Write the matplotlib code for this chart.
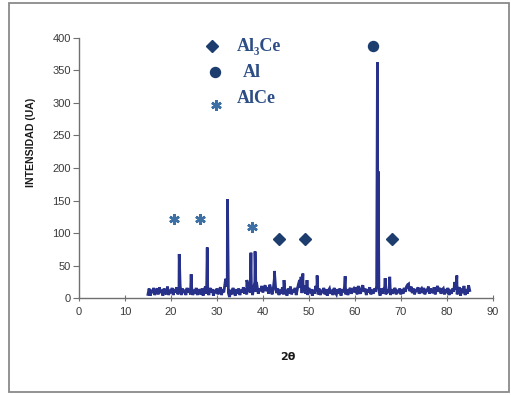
import numpy as np
import matplotlib
matplotlib.use("Agg")
import matplotlib.pyplot as plt
from matplotlib.patches import Rectangle

# ---- data ----
x_start, x_stop, x_step = 15.0, 85.0, 0.25
baseline = [
    6, 15, 4, 13, 8, 16, 5, 12, 15, 6, 17, 8, 13, 4, 15, 9, 6, 18, 5, 13,
    8, 16, 5, 14, 9, 17, 6, 12, 20, 5, 15, 8, 13, 5, 16, 9, 14, 6, 17, 5,
    13, 7, 16, 5, 14, 9, 6, 15, 4, 13, 18, 7, 12, 5, 16, 9, 14, 4, 13, 8,
    15, 6, 12, 17, 5, 14, 9, 22, 28, 18, 8, 2, 13, 6, 16, 9, 4, 14, 7, 15,
    5, 13, 9, 17, 7, 15, 6, 22, 12, 9, 18, 5, 16, 25, 10, 18, 7, 15, 11, 19,
    9, 16, 20, 11, 17, 7, 21, 14, 6, 14, 30, 18, 8, 15, 5, 13, 7, 17, 6, 14,
    10, 4, 15, 7, 18, 6, 13, 9, 16, 5, 14, 22, 28, 16, 8, 15, 20, 7, 13, 5,
    16, 8, 14, 4, 13, 7, 19, 10, 6, 15, 5, 13, 8, 16, 6, 14, 4, 12, 15, 7,
    13, 5, 16, 9, 6, 14, 7, 15, 4, 13, 9, 17, 6, 14, 5, 12, 16, 7, 13, 15,
    9, 17, 6, 19, 11, 7, 16, 20, 10, 15, 5, 14, 9, 17, 6, 13, 7, 15, 10, 19,
    40, 11, 4, 15, 7, 14, 17, 6, 13, 8, 19, 5, 14, 7, 12, 16, 6, 13, 8, 15,
    6, 14, 7, 16, 10, 18, 21, 16, 11, 18, 8, 15, 6, 14, 10, 17, 7, 13, 15, 8,
    16, 6, 14, 10, 18, 7, 15, 11, 8, 17, 6, 14, 19, 10, 16, 7, 13, 15, 6, 14,
    8, 16, 5, 13, 7, 15, 10, 25, 14, 6, 13, 17, 4, 15, 8, 19, 5, 14, 7, 20,
    12,
]
peak_pos = [21.8, 24.4, 27.9, 31.9, 32.3, 36.5, 37.4, 38.3, 38.6, 42.5, 44.6,
            48.3, 48.7, 49.6, 51.8, 57.9, 64.93, 65.08, 66.6, 67.6, 71.7, 82.2]
peak_int = [68, 37, 78, 30, 152, 28, 70, 72, 25, 42, 28,
            33, 38, 28, 35, 34, 362, 195, 31, 33, 22, 35]

# phase marker annotations
al3ce_x = [43.5, 49.2, 68.1]
al3ce_y = [91, 91, 91]
al_x = [64.0]
al_y = [387]
alce_x = [20.7, 26.3, 37.6]
alce_y = [122, 122, 109]

legend_labels = ["Al\u2083Ce", "Al", "AlCe"]

x_ticks = list(range(0, 91, 10))
y_ticks = list(range(0, 401, 50))

# ---- build series ----
x_base = np.arange(x_start, x_stop + x_step / 2, x_step)
xs = np.concatenate([x_base, peak_pos])
ys = np.concatenate([np.array(baseline, float), peak_int])
order = np.argsort(xs, kind="stable")
xs, ys = xs[order], ys[order]

fig = plt.figure(figsize=(5.11, 3.95), dpi=100)
ax = fig.add_axes([0.1546, 0.2448, 0.8096, 0.6598])

line_col = "#28318a"
dark = "#1c3d6e"
light = "#3f70a4"

ax.plot(xs, ys, color=line_col, lw=2.0, zorder=3, solid_joinstyle="miter")

d_ms, o_ms, a_ms = 6.3, 7.2, 7.5
ax.plot(al3ce_x, al3ce_y, ls="none", marker="D", ms=d_ms, color=dark, zorder=4)
ax.plot(al_x, al_y, ls="none", marker="o", ms=o_ms, color=dark, zorder=4)
ax.plot(alce_x, alce_y, ls="none", marker=(6, 2, 0), ms=a_ms, mew=1.8, color=light, zorder=4)

# legend-like key drawn in data space
ax.plot([28.9], [387], ls="none", marker="D", ms=d_ms, color=dark, clip_on=False)
ax.plot([29.6], [347], ls="none", marker="o", ms=o_ms, color=dark, clip_on=False)
ax.plot([29.8], [297], ls="none", marker=(6, 2, 0), ms=a_ms, mew=1.8, color=light, clip_on=False)
tfont = dict(family="Liberation Serif", fontweight="bold", fontsize=13, color="#2c4d85",
             va="center", ha="left")
ax.text(34.4, 387, legend_labels[0], **tfont)
ax.text(35.6, 347, legend_labels[1], **tfont)
ax.text(34.4, 307, legend_labels[2], **tfont)

ax.set_xlim(0, 90)
ax.set_ylim(0, 400)
ax.set_xticks(x_ticks)
ax.set_yticks(y_ticks)
for s in ["top", "right"]:
    ax.spines[s].set_visible(False)
for s in ["left", "bottom"]:
    ax.spines[s].set_color("#707070")
    ax.spines[s].set_linewidth(1.0)
ax.tick_params(axis="y", direction="out", length=4, color="#707070", labelsize=8,
               labelcolor="#3a3a3a", pad=2)
ax.tick_params(axis="x", direction="inout", length=5, color="#707070", labelsize=8,
               labelcolor="#3a3a3a", pad=4)
for lab in ax.get_xticklabels() + ax.get_yticklabels():
    lab.set_family("Liberation Sans")

ax.set_ylabel("INTENSIDAD (UA)", family="Liberation Sans", fontweight="bold", fontsize=7.6,
              color="#1a1a1a")
ax.yaxis.set_label_coords(-0.105, 0.6)
ax.set_xlabel("2\u03b8", family="DejaVu Sans", fontweight="bold", fontsize=8, color="#1a1a1a")
ax.xaxis.set_label_coords(0.505, -0.205)

fig.patches.append(Rectangle((9 / 511, 3 / 395), 500 / 511, 389 / 395, transform=fig.transFigure,
                             fill=False, edgecolor="#8a8a8a", lw=1.3))

fig.savefig("out.png", dpi=100)
